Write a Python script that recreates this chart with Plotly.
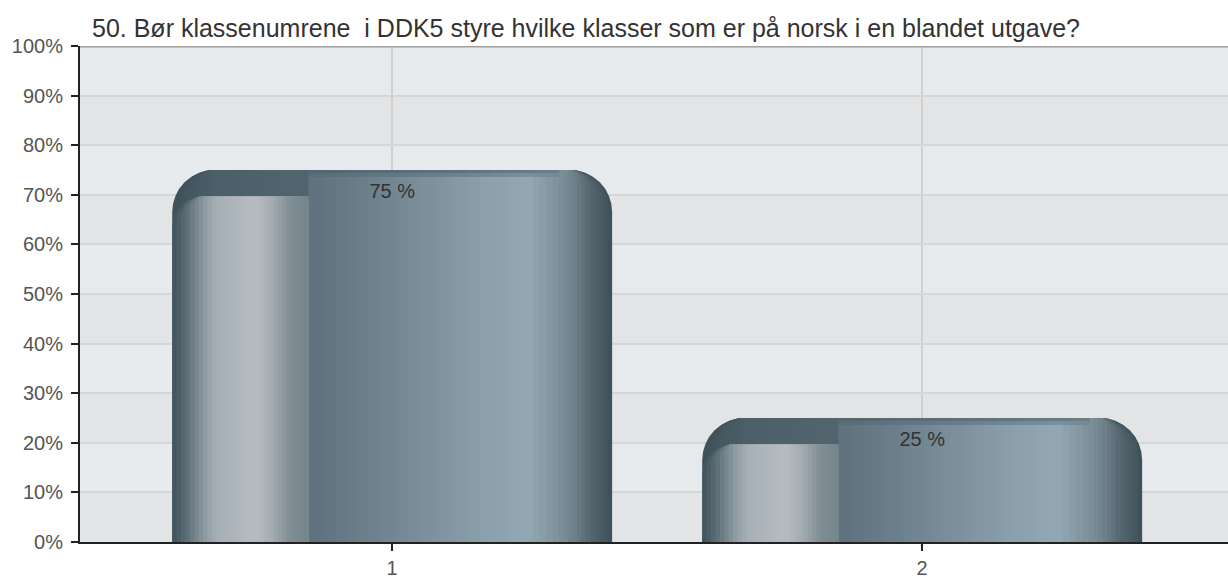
import numpy as np
import plotly.graph_objects as go

title = "50. Bør klassenumrene  i DDK5 styre hvilke klasser som er på norsk i en blandet utgave?"
categories = ["1", "2"]
percent = [75, 25]
labels = ["75 %", "25 %"]
y_ticks = list(range(0, 101, 10))
y_tick_text = [f"{t}%" for t in y_ticks]

BAR_W = 0.83      # bar width in category units
BAR_PX = 440      # same width in pixels, for the corner radii
OUTER_R = 42      # corner radius of the bar
INNER_R = 30      # corner radius of the highlight

# metallic look: colour stops across the bar width (0 = left edge, 1 = right edge)
outer_stops = [(0.0, "#3e505a"), (0.05, "#465963"), (0.10, "#4c5f69"),
               (0.31, "#52656f"), (0.60, "#5d717c"), (0.88, "#6a7e89"),
               (0.92, "#667882"), (0.95, "#55656e"), (1.0, "#3c4e58")]
soft_stops = [(0.31, "#586b76"), (0.60, "#6a7e89"), (0.81, "#7b909b"), (0.88, "#748894")]
body_stops = [(0.31, "#5e717c"), (0.41, "#687c87"), (0.56, "#7a8d98"),
              (0.70, "#8b9faa"), (0.81, "#93a8b3"), (0.88, "#7e909a"),
              (0.92, "#6a7c86"), (0.95, "#56666f"), (1.0, "#3e505a")]
highlight_stops = [(0.0, "#3f535d"), (0.03, "#5a6b74"), (0.07, "#8a979e"),
                   (0.10, "#a5afb5"), (0.19, "#b6bcc2"), (0.225, "#a4adb2"),
                   (0.27, "#7f8d94"), (0.31, "#76858c")]


def hex_rgb(c):
    return np.array([int(c[i:i + 2], 16) for i in (1, 3, 5)], dtype=float)


def blend(stops, f):
    for (f0, c0), (f1, c1) in zip(stops[:-1], stops[1:]):
        if f0 <= f <= f1:
            t = (f - f0) / (f1 - f0)
            rgb = hex_rgb(c0) * (1 - t) + hex_rgb(c1) * t
            return "rgb(%d,%d,%d)" % tuple(rgb.round())
    return stops[-1][1]


def stripe(f0, f1, color, y, radius=0, hover=False):
    return go.Bar(
        x=categories, y=y,
        width=(f1 - f0) * BAR_W, offset=-BAR_W / 2 + f0 * BAR_W,
        marker=dict(color=color, line_width=0, cornerradius=max(radius, 0)),
        hoverinfo="x+y" if hover else "skip", showlegend=False,
    )


def stripes(f_from, f_to, n, stops, y):
    edges = np.linspace(f_from, f_to, n + 1)
    return [stripe(a, min(b + 0.003, f_to), blend(stops, (a + b) / 2), y)
            for a, b in zip(edges[:-1], edges[1:])]


fig = go.Figure()

# outer bar with rounded top; nested layers shade the rounded edges
fig.add_trace(stripe(0, 1, blend(outer_stops, 0.005), percent, OUTER_R, hover=True))
for l in np.arange(0.01, 0.095, 0.01):
    fig.add_traces(stripe(l, 0.5, blend(outer_stops, l + 0.005), percent, OUTER_R - l * BAR_PX))
for r in np.arange(0.99, 0.885, -0.01):
    fig.add_traces(stripe(0.5, r, blend(body_stops, r - 0.005), percent, OUTER_R - (1 - r) * BAR_PX))
# darker band along the top fading into the main gradient body
fig.add_traces(stripes(0.095, 0.88, 26, outer_stops, percent))
fig.add_traces(stripes(0.31, 0.88, 30, soft_stops, [v - 0.6 for v in percent]))
fig.add_traces(stripes(0.31, 0.88, 38, body_stops, [v - 1.4 for v in percent]))

# lighter highlight on the left, set a little below the top
hl_y = [v - 5.3 for v in percent]
for l in np.arange(0.0, 0.065, 0.01):
    fig.add_traces(stripe(l, 0.31, blend(highlight_stops, l + 0.005), hl_y, INNER_R - l * BAR_PX))
fig.add_traces(stripes(0.07, 0.31, 24, highlight_stops, hl_y))

fig.add_trace(go.Scatter(
    x=categories, y=[v - 4.6 for v in percent], text=labels, mode="text",
    textfont=dict(size=20, color="#333333"), hoverinfo="skip", showlegend=False,
))

shapes = [
    dict(type="rect", xref="x domain", yref="y", x0=0, x1=1, y0=lo, y1=lo + 10,
         fillcolor="#e7eaed", line_width=0, layer="below")
    for lo in y_ticks[1:-1:2]
]
shapes.append(dict(type="line", xref="x domain", yref="y", x0=0, x1=1, y0=100, y1=100,
                   line=dict(color="#a0a0a0", width=3), layer="above"))

fig.update_layout(
    width=1228, height=579,
    margin=dict(l=80, r=0, t=46, b=37),
    paper_bgcolor="white", plot_bgcolor="#e3e4e6",
    barmode="overlay", showlegend=False,
    font=dict(family="Liberation Sans, Arial, sans-serif", size=20, color="#555555"),
    title=dict(text=title, x=92 / 1228, xanchor="left", xref="container",
               y=1 - 28 / 579, yanchor="middle", yref="container",
               font=dict(size=25, color="#333333")),
    shapes=shapes,
    xaxis=dict(type="category", range=[-0.589, 1.577], showgrid=True,
               gridcolor="#d0d0d0", gridwidth=1.5, showline=True, linecolor="#222222",
               linewidth=2, ticks="outside", ticklen=7, tickwidth=2, tickcolor="#222222",
               zeroline=False),
    yaxis=dict(range=[0, 100], tickvals=y_ticks, ticktext=y_tick_text, showgrid=True,
               gridcolor="#d6d6d6", gridwidth=1.5, showline=True, linecolor="#222222",
               linewidth=2, ticks="outside", ticklen=7, tickwidth=2, tickcolor="#222222",
               ticklabelstandoff=4, zeroline=False),
)

fig.write_html("out.html", config={"displayModeBar": False},
               post_script="document.body.style.margin='0';document.body.style.overflow='hidden';")
